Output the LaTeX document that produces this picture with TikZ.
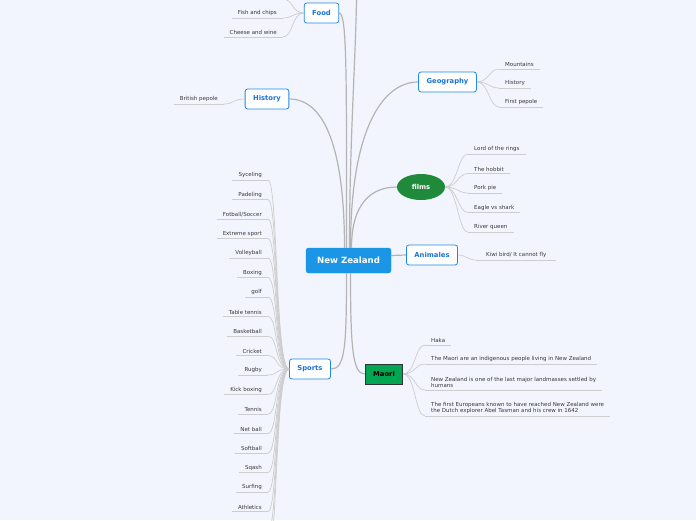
\documentclass[tikz,border=0pt]{standalone}
\usepackage{fontspec}
\setmainfont{DejaVu Sans}
\usetikzlibrary{shapes.geometric}
\definecolor{bgcol}{HTML}{F2F5FD}
\definecolor{topicblue}{HTML}{2188E6}
\definecolor{topictext}{HTML}{1A74D8}
\definecolor{centerblue}{HTML}{1B96E6}
\definecolor{filmgreen}{HTML}{1E8A3A}
\definecolor{maorigreen}{HTML}{00A651}
\definecolor{branchcol}{HTML}{B4B4B4}
\definecolor{twigcol}{HTML}{CDCDCD}
\definecolor{leaftext}{HTML}{383838}

\begin{document}
\begin{tikzpicture}[x=1pt,y=-1pt,
    topic/.style={draw=topicblue, line width=0.8pt, fill=white, rounded corners=2.5pt,
      text=topictext, font=\fontsize{6.8}{8}\selectfont\bfseries,
      minimum height=20pt, inner xsep=8pt},
    branch/.style={draw=branchcol, line width=1.2pt},
    twig/.style={draw=twigcol, line width=0.7pt},
    leaf/.style={text=leaftext, font=\fontsize{5.5}{6.3}\selectfont, align=left,
      inner xsep=6pt, inner ysep=2pt,
      append after command={(\tikzlastnode.south west) edge[twig] (\tikzlastnode.south east)}}]
    \fill[bgcol] (0,0) rectangle (696,520);
    \useasboundingbox (0,0) rectangle (696,520);

    \node [draw=centerblue, fill=centerblue, rounded corners=2.5pt, text=white,
      font=\fontsize{8.6}{10}\selectfont\bfseries, minimum width=85pt, minimum height=25pt]
      (nz) at (348.5,260.5) {New Zealand};
    \node [topic] (food) at (321.5,13) {Food};
    \node [topic] (hist) at (267,99) {History};
    \node [topic] (geo) at (447.5,82) {Geography};
    \node [ellipse, fill=filmgreen, text=white, font=\fontsize{6.8}{8}\selectfont\bfseries,
      minimum width=48pt, minimum height=26pt, inner sep=0pt] (films) at (421,187) {films};
    \node [topic] (anim) at (432,255) {Animales};
    \node [topic] (sports) at (310,369) {Sports};
    \node [draw=black!80, line width=0.8pt, fill=maorigreen, text=black,
      font=\fontsize{6.8}{8}\selectfont\bfseries, minimum height=20pt, inner xsep=8pt]
      (maori) at (384,374) {Maori};
    \coordinate (hidden) at (357,-40);

    \draw[branch] ([xshift=1pt]nz.north) .. controls +(0,-120) and +(0,90) .. (hidden);
    \draw[branch] ([xshift=-2pt]nz.north) .. controls +(0,-170) and +(8,0) .. (food.east);
    \draw[branch] ([xshift=-4pt]nz.north) .. controls +(0,-100) and +(35,0) .. (hist.east);
    \draw[branch] ([xshift=2pt]nz.north) .. controls +(0,-120) and +(-35,0) .. (geo.west);
    \draw[branch] ([xshift=3pt]nz.north) .. controls +(0,-45) and +(-25,0) .. (films.west);
    \draw[branch] ([yshift=5pt]nz.east) -- (anim.west);
    \draw[branch] ([xshift=2pt]nz.south) .. controls +(0,75) and +(-12,0) .. (maori.west);
    \draw[branch] ([xshift=-2pt]nz.south) .. controls +(0,75) and +(14,0) .. (sports.east);

    \coordinate (food0) at (283,-1);
    \draw[twig] (food.west) .. controls +(-12,0) and +(10,0) .. (food0) -- ++(-45,0);
    \foreach \t [count=\i] in {Fish and chips,Cheese and wine} {
      \node [leaf, anchor=south east] (food\i) at (283,{18+19*(\i-1)}) {\t};
      \draw[twig] (food.west) .. controls +(-12,0) and +(10,0) .. (food\i.south east);
    }

    \node [leaf, anchor=south east] (hist1) at (224,104) {British pepole};
    \draw[twig] (hist.west) .. controls +(-12,0) and +(10,0) .. (hist1.south east);

    \foreach \t [count=\i] in {Mountains,History,First pepole} {
      \node [leaf, anchor=south west] (geo\i) at (499,{69+19*(\i-1)}) {\t};
      \draw[twig] (geo.east) .. controls +(12,0) and +(-10,0) .. (geo\i.south west);
    }

    \foreach \t [count=\i] in {Lord of the rings,The hobbit,Pork pie,Eagle vs shark,River queen} {
      \node [leaf, anchor=south west] (film\i) at (468,{154+19.5*(\i-1)}) {\t};
      \draw[twig] (films.east) .. controls +(12,0) and +(-10,0) .. (film\i.south west);
    }

    \node [leaf, anchor=south west, inner xsep=10pt] (anim1) at (476,260) {Kiwi bird/ It cannot fly};
    \draw[twig] (anim.east) .. controls +(8,0) and +(-8,0) .. (anim1.south west);

    \foreach \y/\t [count=\i] in {345/Haka,
      364/The Maori are an indigenous people living in New Zealand,
      390/{New Zealand is one of the last major landmasses settled by\\humans},
      416/{The first Europeans known to have reached New Zealand were\\the Dutch explorer Abel Tasman and his crew in 1642}} {
      \node [leaf, anchor=south west] (maori\i) at (425,\y) {\t};
      \draw[twig] (maori.east) .. controls +(12,0) and +(-10,0) .. (maori\i.south west);
    }

    \foreach \t [count=\i] in {Syceling,Padeling,Fotball/Soccer,Extreme sport,Volleyball,Boxing,
      golf,Table tennis,Basketball,Cricket,Rugby,Kick boxing,Tennis,Net ball,Softball,Sqash,
      Surfing,Athletics} {
      \node [leaf, anchor=south east] (sport\i) at (268,{180+19.5*(\i-1)}) {\t};
      \draw[twig] (sports.west) .. controls +(-14,0) and +(10,0) .. (sport\i.south east);
    }
    \foreach \i in {19,20} {
      \coordinate (sport\i) at (268,{180+19.5*(\i-1)});
      \draw[twig] (sports.west) .. controls +(-14,0) and +(10,0) .. (sport\i);
    }
\end{tikzpicture}
\end{document}
